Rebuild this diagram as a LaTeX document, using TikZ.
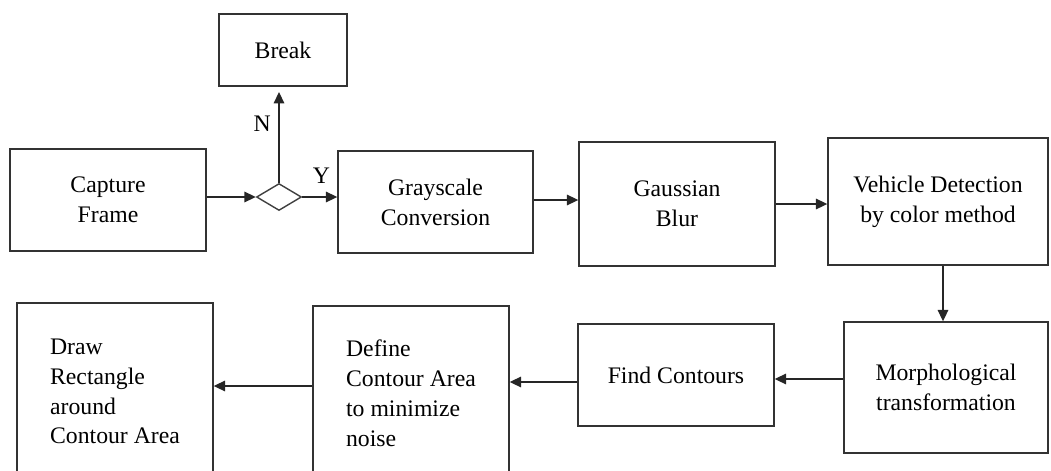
\documentclass[tikz,border=0pt]{standalone}
\usepackage{fontspec}
\setmainfont{Liberation Serif}
\usepackage{tikz}
\usetikzlibrary{arrows.meta,shapes.geometric,positioning,calc}

\begin{document}
\begin{tikzpicture}[x=0.02cm,y=-0.02cm,
  box/.style={draw=black!80,line width=0.8pt,rectangle,align=center,inner sep=0pt},
  leftbox/.style={box,align=left},
  decision/.style={draw=black!75,line width=0.8pt,diamond,inner sep=0pt,minimum width=0.9cm,minimum height=0.54cm},
  arr/.style={draw=black!85,line width=0.8pt,-{Triangle[length=6.5pt,width=6pt]}},
  font=\fontsize{13.5}{17}\selectfont]
\clip (0,0) rectangle (1051,470);
% top row
\node[box,minimum width=2.56cm,minimum height=1.44cm] (brk) at (283,50) {Break};
\node[box,minimum width=3.92cm,minimum height=2.04cm] (capture) at (108,200) {Capture\\Frame};
\node[decision] (dia) at (279,197) {};
\node[box,minimum width=3.9cm,minimum height=2.04cm] (gray) at (435.5,202) {Grayscale\\Conversion};
\node[box,minimum width=3.92cm,minimum height=2.48cm] (gauss) at (677,204) {Gaussian\\Blur};
\node[box,minimum width=4.4cm,minimum height=2.54cm] (veh) at (938,201.5) {Vehicle Detection\\by color method};
% bottom row
\node[box,minimum width=4.08cm,minimum height=2.62cm] (morph) at (946,387.5) {Morphological\\transformation};
\node[box,minimum width=3.92cm,minimum height=2.04cm] (find) at (676,375) {Find Contours};
\node[leftbox,minimum width=3.92cm,minimum height=3.48cm] (def) at (411,393) {Define\\Contour Area\\to minimize\\noise};
\node[leftbox,minimum width=3.92cm,minimum height=3.54cm] (drw) at (115,391.5) {Draw\\Rectangle\\around\\Contour Area};
% connectors
\draw[arr] (capture.east |- dia.west) -- (dia.west);
\draw[arr,shorten >=3pt] (dia.north) -- (dia.north |- brk.south) node[pos=0.61,left=1pt] {N};
\draw[arr] (dia.east) -- (dia.east -| gray.west) node[pos=0.55,above=4pt] {Y};
\draw[arr] ($(gray.east)+(0,-2)$) -- ($(gray.east -| gauss.west)+(0,-2)$);
\draw[arr] (gauss.east) -- (gauss.east -| veh.west);
\draw[arr] (veh.south -| morph.north) ++(-3,0) coordinate (vd) -- (vd |- morph.north);
\draw[arr] (morph.west |- find.east) ++(0,4) coordinate (mf) -- (mf -| find.east);
\draw[arr] (find.west) ++(0,7) coordinate (fd) -- (fd -| def.east);
\draw[arr] (def.west) ++(0,-7) coordinate (dd) -- (dd -| drw.east);
\end{tikzpicture}
\end{document}
